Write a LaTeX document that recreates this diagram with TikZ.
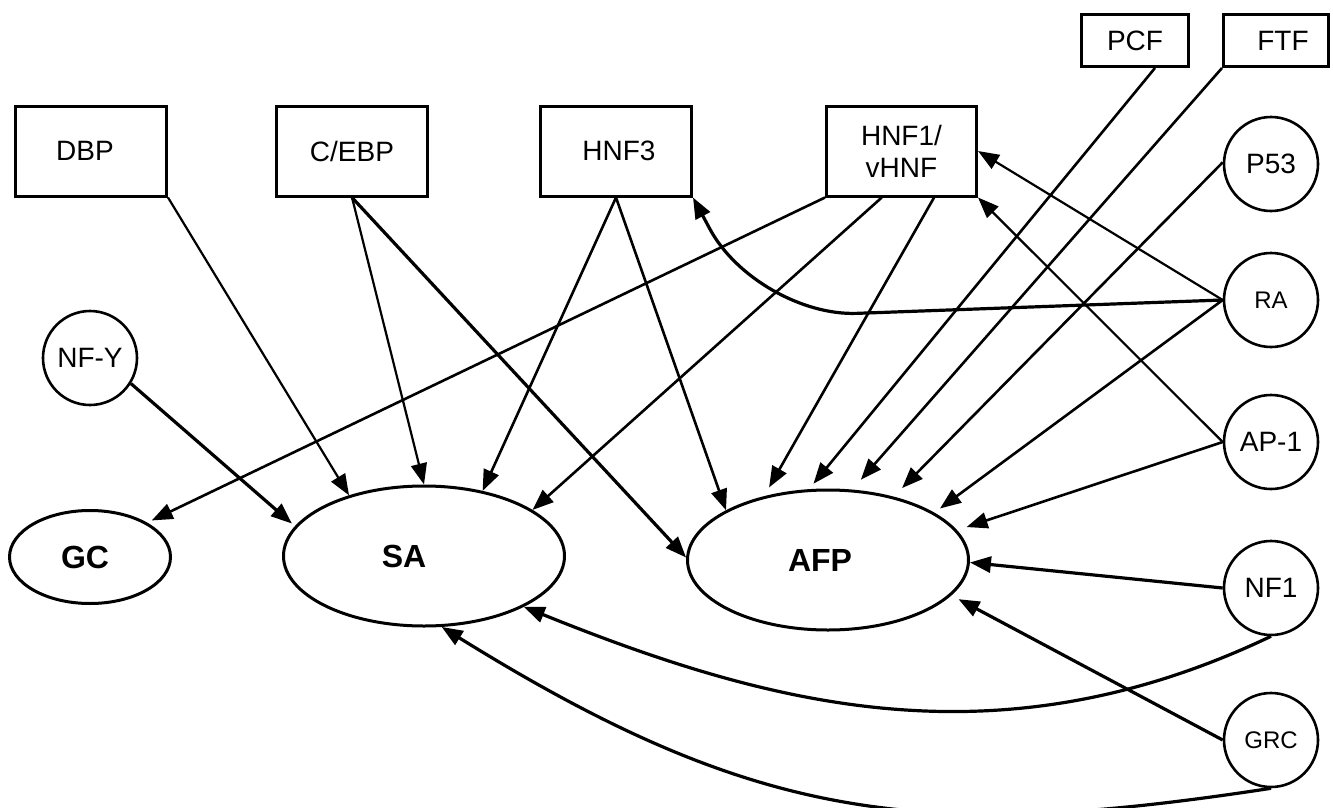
\documentclass[tikz,border=0pt]{standalone}
\usepackage{fontspec}
\setmainfont{Liberation Sans}
\usetikzlibrary{arrows.meta,shapes.geometric}
\begin{document}
\begin{tikzpicture}[x=1pt,y=-1pt,
  box/.style={draw, line width=3pt, rectangle, inner sep=0pt, font=\fontsize{28}{32}\selectfont},
  circ/.style={draw, line width=2.6pt, circle, minimum size=94pt, inner sep=0pt, font=\fontsize{28}{32}\selectfont},
  ell/.style={draw, line width=3pt, ellipse, inner sep=0pt, font=\fontsize{32}{38}\selectfont\bfseries},
  arr/.style={-{Triangle[length=21pt,width=16pt]}, line width=2.6pt},
  arrthin/.style={arr, line width=2.2pt},
  arrthick/.style={arr, line width=3.2pt}]
\useasboundingbox (0,0) rectangle (1333,808);
% boxes
\node[box, minimum width=151pt, minimum height=90pt] (DBP) at (91,151) {DBP\hspace*{12pt}};
\node[box, minimum width=151pt, minimum height=90pt] (CEBP) at (352,151) {C/EBP};
\node[box, minimum width=151pt, minimum height=90pt] (HNF3) at (616,151) {\hspace*{6pt}HNF3};
\node[box, minimum width=150pt, minimum height=90pt, align=center] (HNF1) at (901.5,151) {HNF1/\\vHNF};
\node[box, minimum width=107pt, minimum height=52pt] (PCF) at (1135,40.5) {PCF};
\node[box, minimum width=105pt, minimum height=52pt] (FTF) at (1276,40.5) {\hspace*{14pt}FTF};
% circles
\node[circ] (P53) at (1271,164) {P53};
\node[circ, font=\fontsize{24}{28}\selectfont] (RA) at (1271,300) {RA};
\node[circ] (AP1) at (1271,442) {AP-1};
\node[circ] (NF1) at (1271,588) {NF1};
\node[circ, font=\fontsize{24}{28}\selectfont] (GRC) at (1271,740) {GRC};
\node[circ] (NFY) at (90,358) {NF-Y};
% ellipses
\node[ell, minimum width=161pt, minimum height=93pt] (GC) at (90,557) {GC\hspace*{10pt}};
\node[ell, minimum width=281pt, minimum height=140pt] (SA) at (424,556) {SA\hspace*{40pt}};
\node[ell, minimum width=281pt, minimum height=140pt] (AFP) at (828,560) {AFP\hspace*{16pt}};
\coordinate (rabend) at (757,317);
% edges into SA
\draw[arrthin] (DBP.south east) -- (SA.141);
\draw[arrthick, shorten >=4pt] (NFY.-32) -- (SA.167.6);
\draw[arrthin] (CEBP.south) -- (SA.90);
\draw[arr] (HNF3.south) -- (SA.48);
\draw[arr] (HNF1.247) -- (SA.23);
\draw[arrthick] (NF1.south) .. controls (1001,765) and (777,709) .. (SA.-27);
\draw[arrthick] (GRC.south) .. controls (921,842) and (756,822) .. (SA.-76);
% edge into GC
\draw[arr, shorten >=5pt] (HNF1.south west) -- (GC.31);
% edges into AFP
\draw[arrthick] (CEBP.south) -- (AFP.179);
\draw[arr] (HNF3.south) -- (AFP.154);
\draw[arr, shorten >=10pt] (HNF1.-55.6) -- (AFP.135.5);
\draw[arr, shorten >=7pt] (PCF.-54) -- (AFP.105.4);
\draw[arr, shorten >=13pt] (FTF.south west) -- (AFP.71.9);
\draw[arr, shorten >=12pt] (P53.178) -- (AFP.44.5);
\draw[arr, shorten >=7pt] (RA.west) -- (AFP.24.8);
\draw[arr, shorten >=10pt] (AP1.west) -- (AFP.13);
\draw[arrthick] (NF1.west) -- (AFP.-1);
\draw[arrthick, shorten >=8pt] (GRC.west) -- (AFP.-16.4);
% edges into HNF1 and HNF3
\draw[arrthin] (RA.west) -- (HNF1.east);
\draw[arrthin] (AP1.west) -- (HNF1.south east);
\draw[arrthick, rounded corners=100pt] (RA.west) -- (rabend) -- (HNF3.south east);
\end{tikzpicture}
\end{document}
